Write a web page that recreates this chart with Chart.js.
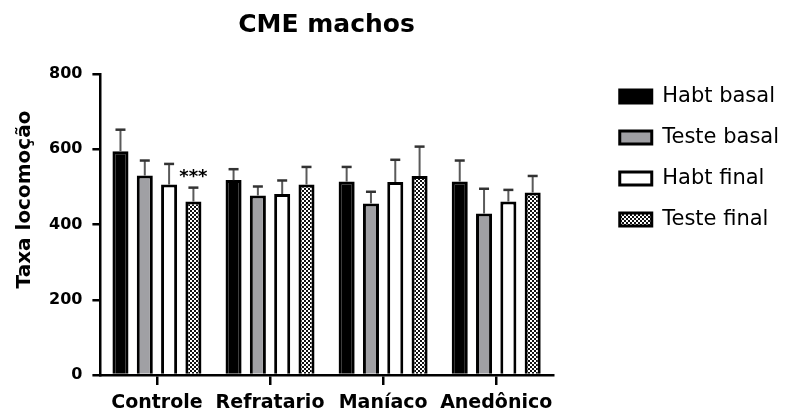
<!DOCTYPE html>
<html>
<head>
<meta charset="utf-8">
<script src="https://cdn.jsdelivr.net/npm/chart.js@4.4.1/dist/chart.umd.min.js"></script>
<style>
  html, body { margin: 0; padding: 0; background: #fff; }
  #wrap { width: 795px; height: 417px; }
</style>
</head>
<body>
<div id="wrap"><canvas id="chart" width="795" height="417"></canvas></div>
<script>
// --- Daten ---
const categorias = ["Controle", "Refratario", "Maníaco", "Anedônico"];
const habtBasal = [595, 518, 514, 514];
const habtBasalErro = [57, 29, 39, 56];
const testeBasal = [530, 477, 456, 429];
const testeBasalErro = [40, 24, 31, 66];
const habtFinal = [506, 481, 513, 461];
const habtFinalErro = [55, 36, 59, 31];
const testeFinal = [461, 506, 529, 485];
const testeFinalErro = [37, 47, 78, 44];
const yTicks = [0, 200, 400, 600, 800];
const yTitulo = "Taxa locomoção";
// significance marks: [dataset index, category index, text]
const marcas = [[3, 0, "***"]];

const fonte = "'DejaVu Sans', sans-serif";

// checkered fill for "Teste final"
function xadrez() {
    const c = document.createElement("canvas");
    c.width = 4; c.height = 4;
    const g = c.getContext("2d");
    g.fillStyle = "#ffffff";
    g.fillRect(0, 0, 4, 4);
    g.fillStyle = "#111111";
    g.fillRect(0, 0, 2, 2);
    g.fillRect(2, 2, 2, 2);
    return g.createPattern(c, "repeat");
}

// --- error bars (upward SEM), asterisks, y title ---
const errorBars = {
    id: "errorBars",
    afterDatasetsDraw(chart) {
        const ctx = chart.ctx;
        const y = chart.scales.y;
        ctx.save();
        chart.data.datasets.forEach((ds, di) => {
            const meta = chart.getDatasetMeta(di);
            meta.data.forEach((bar, i) => {
                const top = y.getPixelForValue(ds.data[i] + ds.erro[i]);
                ctx.strokeStyle = "#5a5a5a";
                ctx.lineWidth = 2;
                ctx.beginPath();
                ctx.moveTo(bar.x, bar.y);
                ctx.lineTo(bar.x, top);
                ctx.stroke();
                ctx.strokeStyle = "#333333";
                ctx.lineWidth = 2.5;
                ctx.beginPath();
                ctx.moveTo(bar.x - 5, top);
                ctx.lineTo(bar.x + 5, top);
                ctx.stroke();
            });
        });
        ctx.fillStyle = "#000";
        ctx.font = "bold 18px " + fonte;
        ctx.textAlign = "center";
        ctx.textBaseline = "alphabetic";
        marcas.forEach(([di, i, txt]) => {
            const ds = chart.data.datasets[di];
            const bar = chart.getDatasetMeta(di).data[i];
            const top = y.getPixelForValue(ds.data[i] + ds.erro[i]);
            ctx.fillText(txt, bar.x, top - 6);
        });

        // y axis title, sits a little above the middle of the axis
        ctx.font = "bold 20px " + fonte;
        ctx.textBaseline = "middle";
        ctx.translate(25, (chart.chartArea.top + chart.chartArea.bottom) / 2 - 25);
        ctx.rotate(-Math.PI / 2);
        ctx.fillText(yTitulo, 0, 0);
        ctx.restore();
    },
};

// legend sits a bit away from the plot, slightly above its top edge
const legendaPos = {
    id: "legendaPos",
    afterLayout(chart) {
        const lg = chart.legend;
        lg.left = chart.chartArea.right + 47;
        lg.right = chart.width;
        lg.top -= 8;
    },
};

const ctx = document.getElementById("chart").getContext("2d");

const comum = {
    borderColor: "#000000",
    borderWidth: 3,
    borderSkipped: "bottom",
    categoryPercentage: 0.86,
    barPercentage: 0.66,
};

const chart = new Chart(ctx, {
    type: "bar",
    data: {
        labels: categorias,
        datasets: [
            { label: "Habt basal", data: habtBasal, erro: habtBasalErro, backgroundColor: "#000000", ...comum },
            { label: "Teste basal", data: testeBasal, erro: testeBasalErro, backgroundColor: "#a0a0a4", ...comum },
            { label: "Habt final", data: habtFinal, erro: habtFinalErro, backgroundColor: "#ffffff", ...comum },
            { label: "Teste final", data: testeFinal, erro: testeFinalErro, backgroundColor: xadrez(), ...comum },
        ],
    },
    plugins: [errorBars, legendaPos],
    options: {
        responsive: false,
        animation: false,
        layout: { padding: { left: 39, right: 71, top: 0, bottom: -5 } },
        plugins: {
            title: {
                display: true,
                fullSize: false,
                text: "CME machos",
                color: "#000",
                font: { family: fonte, size: 25, weight: "bold" },
                padding: { top: 10, bottom: 34 },
            },
            legend: {
                position: "right",
                align: "start",
                fullSize: false,
                labels: {
                    color: "#000",
                    font: { family: fonte, size: 21 },
                    boxWidth: 32,
                    boxHeight: 13,
                    padding: 20,
                },
            },
            tooltip: { enabled: false },
        },
        scales: {
            x: {
                grid: {
                    display: true,
                    offset: false,
                    drawOnChartArea: false,
                    drawTicks: true,
                    tickLength: 10,
                    color: "#000",
                    lineWidth: 2.5,
                },
                border: { display: true, color: "#000", width: 2.5 },
                ticks: {
                    color: "#000",
                    padding: 9,
                    autoSkip: false,
                    maxRotation: 0,
                    minRotation: 0,
                    font: { family: fonte, size: 19, weight: "bold", lineHeight: 1 },
                },
            },
            y: {
                min: 0,
                max: 800,
                afterBuildTicks(scale) {
                    scale.ticks = yTicks.map((v) => ({ value: v }));
                },
                grid: {
                    display: true,
                    drawOnChartArea: false,
                    drawTicks: true,
                    tickLength: 8,
                    color: "#000",
                    lineWidth: 2.5,
                },
                border: { display: true, color: "#000", width: 2.5 },
                ticks: {
                    color: "#000",
                    padding: 10,
                    font: { family: fonte, size: 16, weight: "bold" },
                },
            },
        },
    },
});
</script>
</body>
</html>
